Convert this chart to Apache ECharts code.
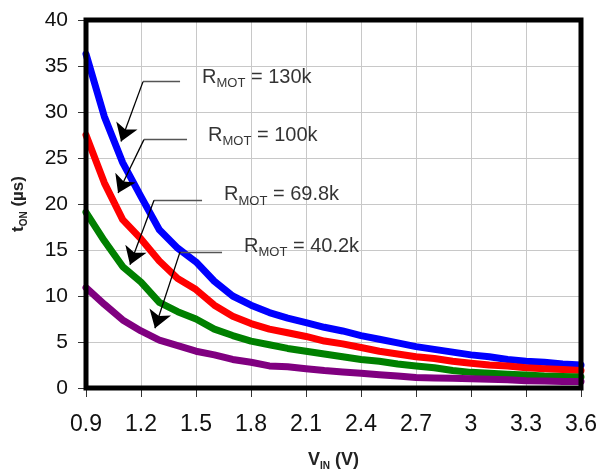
<!DOCTYPE html>
<html>
<head>
<meta charset="utf-8">
<script src="https://cdn.jsdelivr.net/npm/echarts@6/dist/echarts.min.js"></script>
<style>
  html, body { margin: 0; padding: 0; background: #fff; }
  #chart { width: 600px; height: 471px; }
</style>
</head>
<body>
<div id="chart"></div>
<script>
// input voltage (V)
var vin = [0.9, 1.0, 1.1, 1.2, 1.3, 1.4, 1.5, 1.6, 1.7, 1.8, 1.9, 2.0, 2.1, 2.2, 2.3,
  2.4, 2.5, 2.6, 2.7, 2.8, 2.9, 3.0, 3.1, 3.2, 3.3, 3.4, 3.5, 3.6];

// on-time (us) for each RMOT
var ton130k = [36.3, 29.5, 24.5, 20.8, 17.2, 15.2, 13.7, 11.6, 10.0, 9.0, 8.2, 7.6, 7.1, 6.6, 6.2,
  5.7, 5.3, 4.9, 4.5, 4.2, 3.9, 3.6, 3.4, 3.1, 2.9, 2.8, 2.6, 2.5];
var ton100k = [27.5, 22.3, 18.3, 16.2, 13.8, 11.9, 10.7, 9.0, 7.8, 7.0, 6.4, 6.0, 5.6, 5.1, 4.8,
  4.4, 4.0, 3.7, 3.4, 3.2, 2.9, 2.7, 2.5, 2.4, 2.2, 2.1, 2.0, 1.9];
var ton69k8 = [19.1, 16.0, 13.2, 11.5, 9.3, 8.3, 7.5, 6.4, 5.7, 5.1, 4.7, 4.3, 4.0, 3.7, 3.4,
  3.1, 2.9, 2.6, 2.4, 2.2, 1.9, 1.7, 1.6, 1.5, 1.4, 1.3, 1.25, 1.2];
var ton40k2 = [10.9, 9.1, 7.4, 6.2, 5.2, 4.6, 4.0, 3.6, 3.1, 2.8, 2.4, 2.3, 2.1, 1.9, 1.75,
  1.6, 1.45, 1.3, 1.15, 1.1, 1.05, 1.0, 0.95, 0.9, 0.8, 0.75, 0.72, 0.7];

// annotation labels and leader lines (data coords)
var annotNames = ['130k', '100k', '69.8k', '40.2k'];
var annotText = [[1.533, 33.8], [1.566, 27.5], [1.653, 21.0], [1.762, 15.4]];
var annotElbow = [[1.211, 33.3], [1.216, 27.0], [1.271, 20.4], [1.413, 14.8]];
var annotEnd = [[1.413, 33.3], [1.451, 27.0], [1.533, 20.4], [1.642, 14.8]];
var annotTip = [[1.091, 26.8], [1.075, 21.2], [1.14, 13.4], [1.276, 6.5]];

var myChart = echarts.init(document.getElementById('chart'));

function pairs(ys) {
  var out = [];
  for (var i = 0; i < vin.length; i++) {
    out.push([vin[i], ys[i]]);
  }
  return out;
}

function curve(name, color, ys) {
  return {
    name: name,
    type: 'line',
    data: pairs(ys),
    showSymbol: false,
    symbol: 'none',
    z: 3,
    lineStyle: { color: color, width: 7, cap: 'round', join: 'round' }
  };
}

var horiz = [], diag = [], labels = [];
for (var i = 0; i < annotNames.length; i++) {
  horiz.push({ coords: [annotElbow[i], annotEnd[i]] });
  diag.push({ coords: [annotElbow[i], annotTip[i]] });
  labels.push({ value: annotText[i], name: annotNames[i] });
}

var font = 'Arial, "Liberation Sans", sans-serif';

option = {
  animation: false,
  backgroundColor: '#fff',
  grid: {
    left: 86,
    right: 19,
    top: 20,
    bottom: 83,
    outerBoundsMode: 'none',
    containLabel: false,
    show: true,
    borderColor: '#000',
    borderWidth: 5,
    z: 4
  },
  xAxis: {
    type: 'value',
    min: 0.9,
    max: 3.6,
    interval: 0.3,
    name: '{b|V}{s|IN}{b| (V)}',
    nameLocation: 'middle',
    nameGap: 61,
    nameTextStyle: {
      rich: {
        b: { fontFamily: font, fontSize: 18, fontWeight: 'bold', color: '#222', lineHeight: 22 },
        s: { fontFamily: font, fontSize: 10, fontWeight: 'bold', color: '#222', lineHeight: 10, verticalAlign: 'bottom' }
      }
    },
    axisLine: { show: false },
    axisTick: { show: true, length: 9, lineStyle: { color: '#333' } },
    axisLabel: { fontFamily: font, fontSize: 23, color: '#111', margin: 25 },
    splitLine: { show: true, lineStyle: { color: '#c8c8c8', width: 1 } }
  },
  yAxis: {
    type: 'value',
    min: 0,
    max: 40,
    interval: 5,
    name: '{b|t}{s|ON}{b| (µs)}',
    nameLocation: 'middle',
    nameRotate: 90,
    nameGap: 57,
    nameTextStyle: {
      rich: {
        b: { fontFamily: font, fontSize: 17, fontWeight: 'bold', color: '#222', lineHeight: 22 },
        s: { fontFamily: font, fontSize: 10, fontWeight: 'bold', color: '#222', lineHeight: 10, verticalAlign: 'bottom' }
      }
    },
    axisLine: { show: false },
    axisTick: { show: true, length: 8, lineStyle: { color: '#333' } },
    axisLabel: { fontFamily: font, fontSize: 21, color: '#111', margin: 18 },
    splitLine: { show: true, lineStyle: { color: '#c8c8c8', width: 1 } }
  },
  series: [
    curve('RMOT = 130k', '#0000ff', ton130k),
    curve('RMOT = 100k', '#ff0000', ton100k),
    curve('RMOT = 69.8k', '#008000', ton69k8),
    curve('RMOT = 40.2k', '#800080', ton40k2),
    {
      name: 'leader',
      type: 'lines',
      coordinateSystem: 'cartesian2d',
      z: 5,
      symbol: ['none', 'none'],
      lineStyle: { color: '#555', width: 1.3, opacity: 1 },
      data: horiz
    },
    {
      name: 'arrow',
      type: 'lines',
      coordinateSystem: 'cartesian2d',
      z: 5,
      symbol: ['none', 'arrow'],
      symbolSize: [14, 17],
      lineStyle: { color: '#000', width: 1.3, opacity: 1 },
      data: diag
    },
    {
      name: 'labels',
      type: 'scatter',
      symbolSize: 0,
      z: 6,
      data: labels,
      label: {
        show: true,
        position: 'right',
        distance: 0,
        formatter: function (p) {
          return '{r|R}{s|MOT}{r| = ' + p.name + '}';
        },
        rich: {
          r: { fontFamily: font, fontSize: 20, color: '#000', lineHeight: 26 },
          s: { fontFamily: font, fontSize: 13, color: '#000', lineHeight: 14, verticalAlign: 'bottom' }
        }
      }
    }
  ]
};

myChart.setOption(option);
</script>
</body>
</html>
